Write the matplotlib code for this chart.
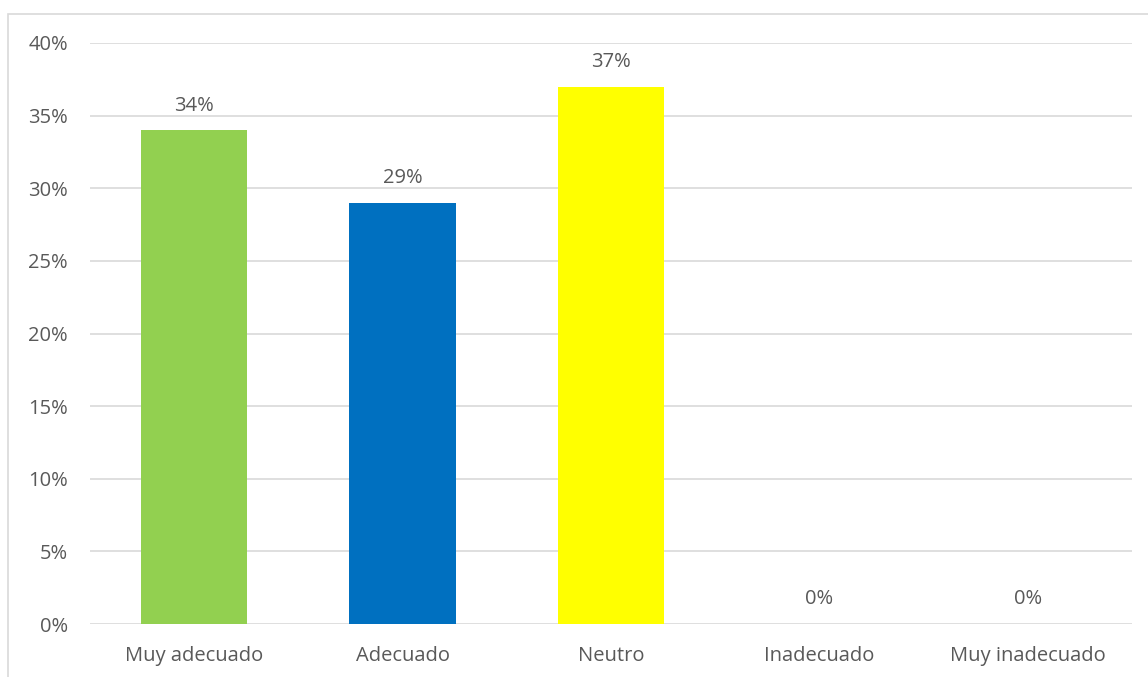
import matplotlib.pyplot as plt
from matplotlib.patches import Rectangle
from matplotlib.ticker import FuncFormatter

# =========================
# DATA
# =========================
categories = ["Muy adecuado", "Adecuado", "Neutro", "Inadecuado", "Muy inadecuado"]
values = [34, 29, 37, 0, 0]
colors = ["#92D050", "#0070C0", "#FFFF00", "#A5A5A5", "#A5A5A5"]
yticks = [0, 5, 10, 15, 20, 25, 30, 35, 40]

TEXT = "#595959"
GRID = "#D9D9D9"

plt.rcParams["font.family"] = ["Open Sans", "DejaVu Sans"]

# =========================
# FIGURE
# =========================
W, H = 1148, 677
fig = plt.figure(figsize=(W / 100, H / 100), dpi=100)
ax = fig.add_axes([90 / W, 1 - 624 / H, 1042 / W, (624 - 43) / H])

# outer chart border (cropped on right/bottom in the reference)
fig.patches.append(Rectangle((8 / W, -0.1), 1.2, 1 - 14 / H + 0.1,
                             transform=fig.transFigure, fill=False,
                             edgecolor=GRID, linewidth=1.2))

x = range(len(categories))
bars = ax.bar(x, values, width=0.51, color=colors, zorder=3)

for xi, v in zip(x, values):
    ax.text(xi, v + 1.0, f"{v}%", ha="center", va="bottom",
            fontsize=14.5, color=TEXT)

ax.set_xlim(-0.5, len(categories) - 0.5)
ax.set_ylim(0, 40)
ax.set_yticks(yticks)
ax.yaxis.set_major_formatter(FuncFormatter(lambda v, _: f"{v:.0f}%"))
ax.set_xticks(list(x))
ax.set_xticklabels(categories)

ax.grid(axis="y", color=GRID, linewidth=1.2, zorder=0)
for s in ax.spines.values():
    s.set_visible(False)
ax.tick_params(length=0, labelsize=14.5, labelcolor=TEXT)
ax.tick_params(axis="x", pad=16)
ax.tick_params(axis="y", pad=16)

fig.savefig("out.png", dpi=100)
